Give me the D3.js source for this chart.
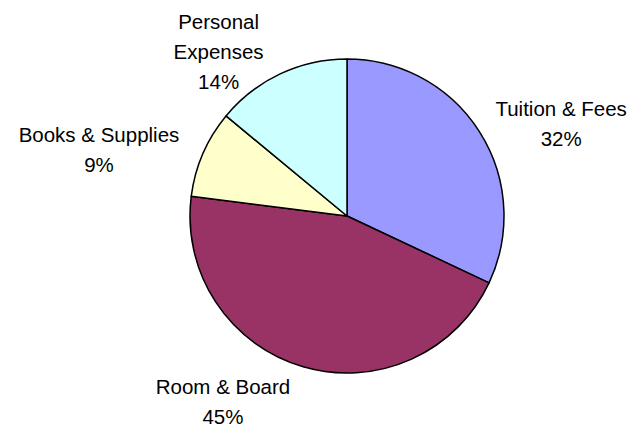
<!DOCTYPE html>
<html>
<head>
<meta charset="utf-8">
<script src="https://cdn.jsdelivr.net/npm/d3@7"></script>
<style>
  body { margin: 0; background: #fff; }
  text { font-family: "Liberation Sans", Arial, sans-serif; fill: #000; }
</style>
</head>
<body>
<div id="chart"></div>
<script>
// chart data
const categories = ["Tuition & Fees", "Room & Board", "Books & Supplies", "Personal Expenses"];
const labelLines = [["Tuition & Fees"], ["Room & Board"], ["Books & Supplies"], ["Personal", "Expenses"]];
const shares = [32, 45, 9, 14];
const colors = ["#9999FF", "#993366", "#FFFFCC", "#CCFFFF"];

const width = 634, height = 427;
const cx = 347, cy = 216, radius = 157;
const fontSize = 20.5, lineGap = 30, capH = 14.7;

const data = categories.map((c, i) => ({ name: c, lines: labelLines[i], value: shares[i], color: colors[i] }));

const svg = d3.select("#chart").append("svg")
  .attr("width", width)
  .attr("height", height);

const g = svg.append("g").attr("transform", `translate(${cx},${cy})`);

const pie = d3.pie().sort(null).value(d => d.value);
const arc = d3.arc().innerRadius(0).outerRadius(radius);

const arcs = pie(data);

g.selectAll("path.slice")
  .data(arcs)
  .join("path")
  .attr("class", "slice")
  .attr("d", arc)
  .attr("fill", d => d.data.color)
  .attr("stroke", "#000")
  .attr("stroke-width", 1.5)
  .attr("stroke-linejoin", "round");

// labels: outside end, pushed further out when the slice points up/down
g.selectAll("text.label")
  .data(arcs)
  .join("text")
  .attr("class", "label")
  .style("font-size", fontSize + "px")
  .each(function (d) {
    const mid = (d.startAngle + d.endAngle) / 2;
    const c = Math.cos(mid);
    const r = 172 + 16 * Math.abs(c) + 2 * Math.max(0, -c);
    const x = Math.sin(mid) * r - 4;
    const y = -c * r + 4;
    const right = Math.sin(mid) >= 0;
    const rows = d.data.lines.concat([d.data.value + "%"]);
    const n = rows.length;
    const first = y - (lineGap * (n - 1)) / 2 + capH / 2;
    const t = d3.select(this);
    const spans = rows.map((row, i) => t.append("tspan").attr("y", first + i * lineGap).text(row));
    const w = d3.max(spans, s => s.node().getComputedTextLength());
    const centerX = right ? x + w / 2 : x - w / 2;
    spans.forEach(s => s.attr("x", centerX).attr("text-anchor", "middle"));
  });
</script>
</body>
</html>
